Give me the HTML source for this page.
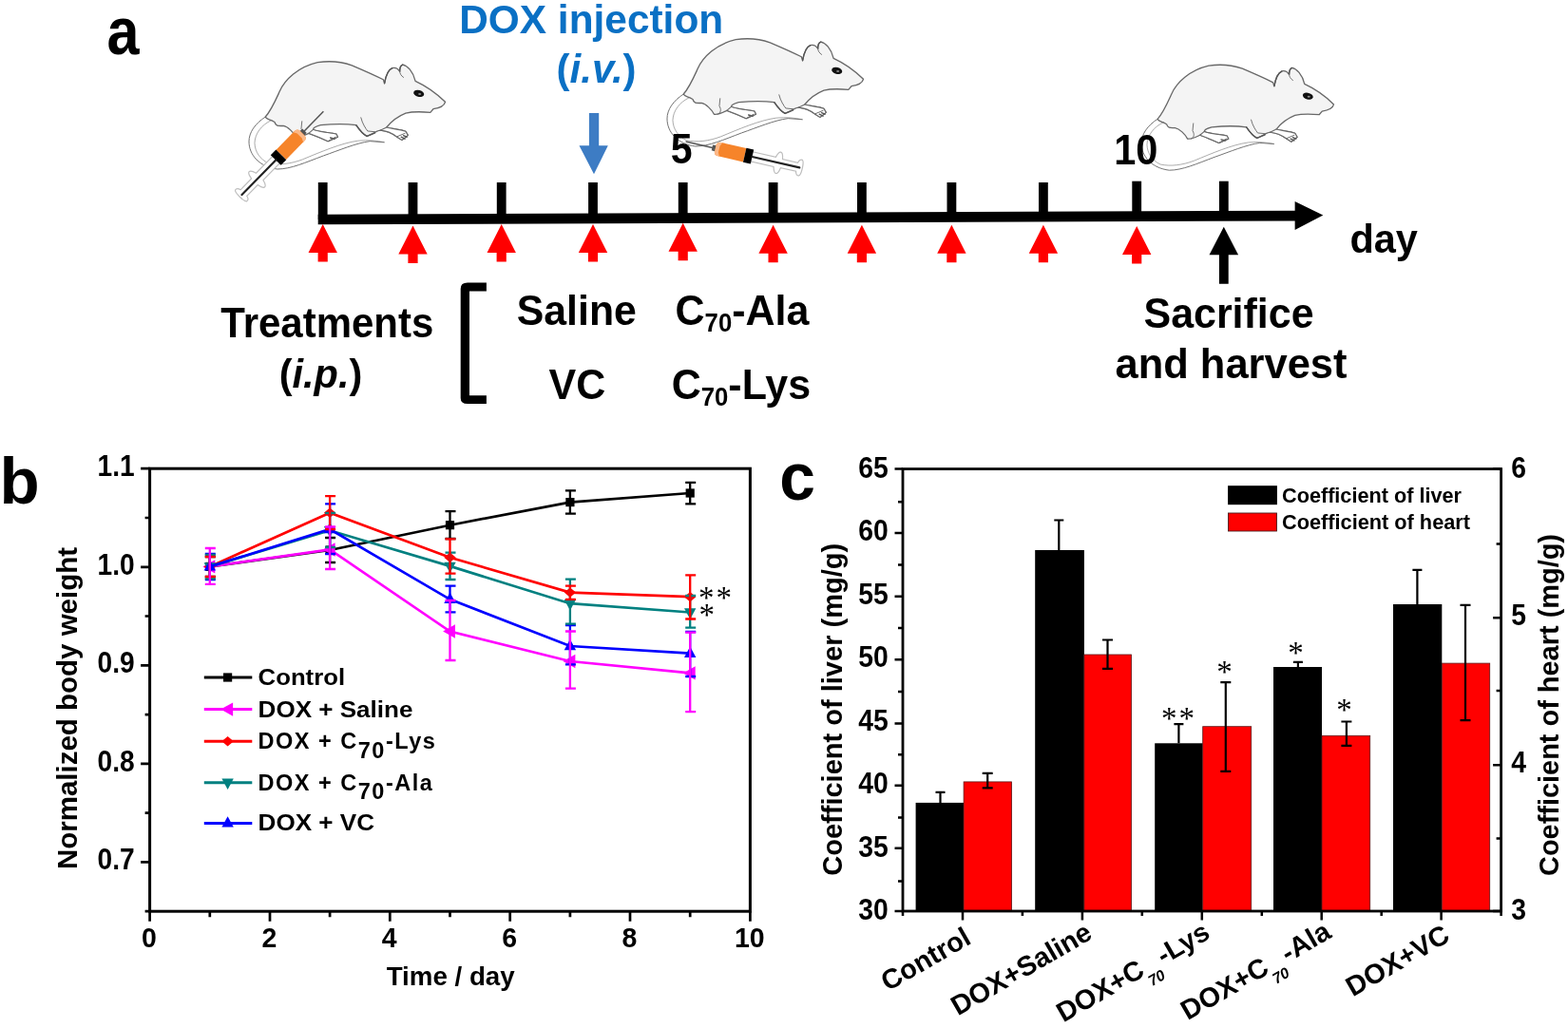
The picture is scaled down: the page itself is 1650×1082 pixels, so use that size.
<!DOCTYPE html>
<html lang="en"><head><meta charset="utf-8"><title>Figure: DOX treatment timeline, body weight and organ coefficients</title>
<style>
html,body{margin:0;padding:0;background:#fff;}
body{width:1650px;height:1082px;overflow:hidden;}
svg{display:block;}
text{font-family:"Liberation Sans", Arial, sans-serif;}
</style></head><body>
<svg width="1650" height="1082" viewBox="0 0 1650 1082">
<rect width="1650" height="1082" fill="#fff"/>
<defs>
<g id="mouse" transform="translate(240,50) scale(0.15706)" fill="none" stroke="#686868" stroke-width="8.5" stroke-linejoin="round" stroke-linecap="round">
<path fill="#f4f4f4" d="M250 465 C290 420 320 350 345 295 C380 215 470 130 600 100 C680 88 760 95 830 120 C900 150 980 185 1040 215 L1048 240 C1055 200 1070 150 1100 138 C1120 132 1140 145 1150 160 C1150 140 1155 120 1170 115 C1200 120 1240 160 1255 225 C1320 255 1400 310 1455 365 C1450 385 1420 405 1375 412 L1355 435 C1300 430 1230 430 1190 440 C1140 460 1090 500 1062 535 C1100 545 1150 548 1190 562 L1205 588 L1165 620 L1130 598 C1100 575 1060 558 1020 555 C990 560 960 585 930 595 C900 580 875 545 858 520 C800 512 700 512 620 520 C590 528 570 540 570 550 C600 565 680 570 725 580 L735 600 L670 628 C630 610 580 590 540 575 C510 590 480 605 455 600 C440 570 400 530 370 525 C340 525 320 530 312 500 L290 488 C270 480 255 480 250 465 Z"/>
<path fill="#fff" stroke-width="7" d="M1062 535 C1100 545 1150 548 1190 562 L1205 588 L1165 620 L1130 598 C1100 575 1060 558 1020 555 Z"/>
<path fill="#fff" stroke-width="7" d="M570 550 C600 565 680 570 725 580 L735 600 L670 628 C630 610 580 590 540 575 Z"/>
<path stroke-width="9" stroke="#555" d="M1160 600 L1185 612 M1175 590 L1198 600 M685 605 L715 612 M1048 240 C1055 200 1070 150 1100 138 M1150 160 C1150 140 1155 120 1170 115 M858 520 C875 545 900 580 930 595 L985 572"/>
<path stroke-width="6" d="M250 465 C180 510 140 570 140 630 C140 720 210 800 330 815 C420 815 520 770 640 725 C740 690 860 640 950 628 L1045 635"/>
<path stroke-width="4" stroke="#777" d="M290 488 C220 520 180 580 178 640 C180 700 215 750 270 775 C340 790 420 780 500 750 C620 700 760 640 870 625 C940 618 1000 625 1045 635"/>
<path stroke-width="6" d="M890 470 C900 510 920 540 935 560 L985 565 M1150 160 C1150 175 1160 190 1175 200 M480 600 C500 590 505 570 490 545 L495 495 M1130 598 L1185 575 M670 628 L720 600"/>
<ellipse cx="1278" cy="308" rx="36" ry="22" transform="rotate(15 1278 308)" fill="#111" stroke="none"/>
<ellipse cx="1284" cy="312" rx="10" ry="6" fill="#888" stroke="none"/>
</g>
<g id="syringe">
<path d="M0 0 L31 0" stroke="#555" stroke-width="1.5" fill="none"/>
<path d="M28.5 -3 L32.5 -3.4 L32.5 3.4 L28.5 3 Z" fill="#555"/>
<path d="M71 -5.2 L96 -5.2 C97 -9 98 -11.5 100 -11.5 C102 -11.5 103 -8 103.5 -4.6 L120 -4.6 C120.5 -7.5 122 -9 124 -8.5 C126.5 -7 126.5 7 124 8.5 C122 9 120.5 7.5 120 4.6 L103.5 4.6 C103 8 102 11.5 100 11.5 C98 11.5 97 9 96 5.2 L71 5.2 Z" fill="#fff" stroke="#bdbdbd" stroke-width="1.2"/>
<path d="M32 -4 Q32.5 -7.4 36.5 -7.4 L63.7 -7.4 L63.7 7.4 L36.5 7.4 Q32.5 7.4 32 4 Z" fill="#f6842a"/>
<path d="M32 -4 Q32.5 -7.4 36.5 -7.4 L38 -7.4 L36 -3.5 L36 3.5 L38 7.4 L36.5 7.4 Q32.5 7.4 32 4 Z" fill="#fbb888"/>
<rect x="63.7" y="-7.6" width="8" height="15.2" fill="#000"/>
<path d="M71.7 0 L122.8 0" stroke="#222" stroke-width="2.2" stroke-linecap="round"/>
</g>
</defs>
<g id="panel-a">
<text transform="translate(112.6,56.6) scale(0.88,1)" font-size="69.5" font-weight="bold">a</text>
<use href="#mouse"/>
<use href="#mouse" transform="translate(440,-24)"/>
<use href="#mouse" transform="translate(1403.5,109.9) scale(0.98) translate(-468.5,-107.3)"/>
<use href="#syringe" transform="translate(340.4,117.3) rotate(134.4)"/>
<use href="#syringe" transform="translate(721.6,149) rotate(12.9)"/>
<text transform="translate(622.2,35) scale(0.9434,1)" font-size="43.25" font-weight="bold" text-anchor="middle" fill="#0a70c4" textLength="294.7" lengthAdjust="spacingAndGlyphs">DOX injection</text>
<text transform="translate(627.6,86.9) scale(0.9804,1)" font-size="42.84" font-weight="bold" text-anchor="middle" fill="#0a70c4">(<tspan font-style="italic">i.v.</tspan>)</text>
<path d="M619.9 119 L630.2 119 L630.2 153.2 L639.8 153.2 L625 183.2 L609.5 153.2 L619.9 153.2 Z" fill="#3d7cc4"/>
<path d="M334.7 225.7 L1366 221.7 L1366 232.5 L334.7 236.3 Z" fill="#000"/>
<path d="M1362.6 212.1 L1392.3 226.6 L1362.6 241.9 Z" fill="#000"/>
<rect x="334.8" y="192" width="9.8" height="39.0" fill="#000"/>
<rect x="429.6" y="192" width="9.8" height="38.6" fill="#000"/>
<rect x="522.8" y="192" width="9.8" height="38.3" fill="#000"/>
<rect x="619.1" y="192" width="9.8" height="37.9" fill="#000"/>
<rect x="713.8" y="192" width="9.8" height="37.5" fill="#000"/>
<rect x="808.7" y="192" width="9.8" height="37.2" fill="#000"/>
<rect x="902.0" y="192" width="9.8" height="36.8" fill="#000"/>
<rect x="996.5" y="192" width="9.8" height="36.5" fill="#000"/>
<rect x="1093.0" y="192" width="9.8" height="36.1" fill="#000"/>
<rect x="1191.3" y="190.7" width="9.8" height="37.0" fill="#000"/>
<rect x="1282.9" y="190.7" width="9.8" height="36.7" fill="#000"/>
<path d="M339.7 236.0 L354.9 266.0 L344.8 266.0 L344.8 275.5 L334.6 275.5 L334.6 266.0 L324.5 266.0 Z" fill="#f00"/>
<path d="M434.5 237.6 L449.7 267.6 L439.6 267.6 L439.6 277.1 L429.4 277.1 L429.4 267.6 L419.3 267.6 Z" fill="#f00"/>
<path d="M527.7 236.0 L542.9 266.0 L532.8 266.0 L532.8 275.5 L522.6 275.5 L522.6 266.0 L512.5 266.0 Z" fill="#f00"/>
<path d="M624.0 236.0 L639.2 266.0 L629.1 266.0 L629.1 275.5 L618.9 275.5 L618.9 266.0 L608.8 266.0 Z" fill="#f00"/>
<path d="M718.7 234.8 L733.9 264.8 L723.8 264.8 L723.8 274.3 L713.6 274.3 L713.6 264.8 L703.5 264.8 Z" fill="#f00"/>
<path d="M813.6 236.8 L828.8 266.8 L818.7 266.8 L818.7 276.3 L808.5 276.3 L808.5 266.8 L798.4 266.8 Z" fill="#f00"/>
<path d="M906.9 236.8 L922.1 266.8 L912.0 266.8 L912.0 276.3 L901.8 276.3 L901.8 266.8 L891.7 266.8 Z" fill="#f00"/>
<path d="M1001.4 236.8 L1016.6 266.8 L1006.5 266.8 L1006.5 276.3 L996.3 276.3 L996.3 266.8 L986.2 266.8 Z" fill="#f00"/>
<path d="M1097.9 236.8 L1113.1 266.8 L1103.0 266.8 L1103.0 276.3 L1092.8 276.3 L1092.8 266.8 L1082.7 266.8 Z" fill="#f00"/>
<path d="M1196.2 238.0 L1211.4 268.0 L1201.3 268.0 L1201.3 277.5 L1191.1 277.5 L1191.1 268.0 L1181.0 268.0 Z" fill="#f00"/>
<path d="M1287.8 238.8 L1303.1 268.3 L1292.7 268.3 L1292.7 298.8 L1282.8999999999999 298.8 L1282.8999999999999 268.3 L1272.5 268.3 Z" fill="#000"/>
<text transform="translate(717.2,172.0) scale(0.9346,1)" font-size="43.87" font-weight="bold" text-anchor="middle" fill="#000">5</text>
<text transform="translate(1195.2,173.4) scale(0.9346,1)" font-size="44.41" font-weight="bold" text-anchor="middle" fill="#000">10</text>
<text transform="translate(1456.2,266) scale(0.9709,1)" font-size="42.75" font-weight="bold" text-anchor="middle" fill="#000">day</text>
<text transform="translate(344.3,355.4) scale(0.9524,1)" font-size="43.58" font-weight="bold" text-anchor="middle" fill="#000" textLength="235.2" lengthAdjust="spacingAndGlyphs">Treatments</text>
<text transform="translate(337.5,407.8) scale(0.9804,1)" font-size="42.33" font-weight="bold" text-anchor="middle" fill="#000">(<tspan font-style="italic">i.p.</tspan>)</text>
<path d="M511.9 297.6 L492 297.6 Q484.7 297.6 484.7 304 L484.7 419 Q484.7 425 492 425 L511.9 425 L511.9 416.2 L494 416.2 L494 306.4 L511.9 306.4 Z" fill="#000"/>
<text transform="translate(606.8,341.6) scale(0.9524,1)" font-size="45.15" font-weight="bold" text-anchor="middle" fill="#000" textLength="132.3" lengthAdjust="spacingAndGlyphs">Saline</text>
<text transform="translate(607.4,419.8) scale(0.9524,1)" font-size="45.15" font-weight="bold" text-anchor="middle" fill="#000">VC</text>
<text transform="translate(781,341.6) scale(0.9524,1)" font-size="45.15" font-weight="bold" text-anchor="middle" fill="#000">C<tspan font-size="27" dy="7">70</tspan><tspan dy="-7">-Ala</tspan></text>
<text transform="translate(779.9,419.8) scale(0.9524,1)" font-size="45.15" font-weight="bold" text-anchor="middle" fill="#000">C<tspan font-size="27" dy="7">70</tspan><tspan dy="-7">-Lys</tspan></text>
<text transform="translate(1293,345.2) scale(0.9709,1)" font-size="44.29" font-weight="bold" text-anchor="middle" fill="#000" textLength="184.4" lengthAdjust="spacingAndGlyphs">Sacrifice</text>
<text transform="translate(1295.5,397.7) scale(0.9709,1)" font-size="44.29" font-weight="bold" text-anchor="middle" fill="#000" textLength="251.3" lengthAdjust="spacingAndGlyphs">and harvest</text>
</g>
<g id="panel-b">
<text transform="translate(-0.6,529.7) scale(1.0,1)" font-size="69" font-weight="bold">b</text>
<rect x="157.6" y="493.2" width="631.8" height="466.0" fill="none" stroke="#000" stroke-width="3"/>
<path d="M157.6 959.2 h-5 M157.6 907.4 h-9.5 M157.6 855.6 h-5 M157.6 803.9 h-9.5 M157.6 752.1 h-5 M157.6 700.3 h-9.5 M157.6 648.5 h-5 M157.6 596.8 h-9.5 M157.6 545.0 h-5 M157.6 493.2 h-9.5 M157.6 959.2 v10.5 M220.8 959.2 v6 M284.0 959.2 v10.5 M347.1 959.2 v6 M410.3 959.2 v10.5 M473.5 959.2 v6 M536.7 959.2 v10.5 M599.9 959.2 v6 M663.0 959.2 v10.5 M726.2 959.2 v6 M789.4 959.2 v10.5" stroke="#000" stroke-width="2.7" fill="none"/>
<text transform="translate(141.6,915.1) scale(0.92,1)" font-size="30.6" font-weight="bold" text-anchor="end" fill="#000">0.7</text>
<text transform="translate(141.6,811.6) scale(0.92,1)" font-size="30.6" font-weight="bold" text-anchor="end" fill="#000">0.8</text>
<text transform="translate(141.6,708.0) scale(0.92,1)" font-size="30.6" font-weight="bold" text-anchor="end" fill="#000">0.9</text>
<text transform="translate(141.6,604.5) scale(0.92,1)" font-size="30.6" font-weight="bold" text-anchor="end" fill="#000">1.0</text>
<text transform="translate(141.6,500.9) scale(0.92,1)" font-size="30.6" font-weight="bold" text-anchor="end" fill="#000">1.1</text>
<text transform="translate(157.0,997.3) scale(0.94,1)" font-size="30.3" font-weight="bold" text-anchor="middle" fill="#000">0</text>
<text transform="translate(283.4,997.3) scale(0.94,1)" font-size="30.3" font-weight="bold" text-anchor="middle" fill="#000">2</text>
<text transform="translate(409.7,997.3) scale(0.94,1)" font-size="30.3" font-weight="bold" text-anchor="middle" fill="#000">4</text>
<text transform="translate(536.1,997.3) scale(0.94,1)" font-size="30.3" font-weight="bold" text-anchor="middle" fill="#000">6</text>
<text transform="translate(662.4,997.3) scale(0.94,1)" font-size="30.3" font-weight="bold" text-anchor="middle" fill="#000">8</text>
<text transform="translate(788.8,997.3) scale(0.94,1)" font-size="30.3" font-weight="bold" text-anchor="middle" fill="#000">10</text>
<text x="474.2" y="1036.7" font-size="27" font-weight="bold" text-anchor="middle" fill="#000" textLength="135" lengthAdjust="spacingAndGlyphs">Time / day</text>
<text transform="translate(80.8,745.5) rotate(-90)" font-size="29" font-weight="bold" text-anchor="middle" textLength="339" lengthAdjust="spacingAndGlyphs">Normalized body weight</text>
<polyline points="220.8,596.4 347.1,579.0 473.5,552.7 599.9,528.6 726.2,519.0" fill="none" stroke="#000" stroke-width="2.7"/>
<rect x="216.2" y="591.8" width="9.2" height="9.2" fill="#000"/>
<rect x="342.5" y="574.4" width="9.2" height="9.2" fill="#000"/>
<rect x="468.9" y="548.1" width="9.2" height="9.2" fill="#000"/>
<rect x="595.3" y="524.0" width="9.2" height="9.2" fill="#000"/>
<rect x="721.6" y="514.4" width="9.2" height="9.2" fill="#000"/>
<polyline points="220.8,596.4 347.1,578.5 473.5,664.5 599.9,696.0 726.2,708.4" fill="none" stroke="#ff00ff" stroke-width="2.7"/>
<path d="M213.4 596.4 L226.3 589.2 L226.3 603.6 Z" fill="#ff00ff"/>
<path d="M339.7 578.5 L352.6 571.3 L352.6 585.7 Z" fill="#ff00ff"/>
<path d="M466.1 664.5 L479.0 657.3 L479.0 671.7 Z" fill="#ff00ff"/>
<path d="M592.5 696.0 L605.4 688.8 L605.4 703.2 Z" fill="#ff00ff"/>
<path d="M718.8 708.4 L731.7 701.2 L731.7 715.6 Z" fill="#ff00ff"/>
<polyline points="220.8,596.4 347.1,539.7 473.5,586.8 599.9,623.6 726.2,628.2" fill="none" stroke="#ff0000" stroke-width="2.7"/>
<path d="M214.6 596.4 L220.8 591.2 L227.0 596.4 L220.8 601.6 Z" fill="#ff0000"/>
<path d="M340.9 539.7 L347.1 534.5 L353.3 539.7 L347.1 544.9 Z" fill="#ff0000"/>
<path d="M467.3 586.8 L473.5 581.6 L479.7 586.8 L473.5 592.0 Z" fill="#ff0000"/>
<path d="M593.7 623.6 L599.9 618.4 L606.1 623.6 L599.9 628.8 Z" fill="#ff0000"/>
<path d="M720.0 628.2 L726.2 623.0 L732.4 628.2 L726.2 633.4 Z" fill="#ff0000"/>
<polyline points="220.8,596.4 347.1,558.3 473.5,595.9 599.9,635.2 726.2,644.5" fill="none" stroke="#008080" stroke-width="2.7"/>
<path d="M214.6 592.2 L227.0 592.2 L220.8 603.6 Z" fill="#008080"/>
<path d="M340.9 554.1 L353.3 554.1 L347.1 565.5 Z" fill="#008080"/>
<path d="M467.3 591.7 L479.7 591.7 L473.5 603.1 Z" fill="#008080"/>
<path d="M593.7 631.0 L606.1 631.0 L599.9 642.4 Z" fill="#008080"/>
<path d="M720.0 640.3 L732.4 640.3 L726.2 651.7 Z" fill="#008080"/>
<polyline points="220.8,596.4 347.1,557.0 473.5,630.8 599.9,680.0 726.2,687.7" fill="none" stroke="#0000ff" stroke-width="2.7"/>
<path d="M214.6 600.6 L227.0 600.6 L220.8 589.2 Z" fill="#0000ff"/>
<path d="M340.9 561.2 L353.3 561.2 L347.1 549.8 Z" fill="#0000ff"/>
<path d="M467.3 635.0 L479.7 635.0 L473.5 623.6 Z" fill="#0000ff"/>
<path d="M593.7 684.2 L606.1 684.2 L599.9 672.8 Z" fill="#0000ff"/>
<path d="M720.0 691.9 L732.4 691.9 L726.2 680.5 Z" fill="#0000ff"/>
<path d="M220.8 586 V607 M215.8 586 h11 M215.8 607 h11 M347.1 566 V592 M342.1 566 h11 M342.1 592 h11 M473.5 538.2 V567 M468.5 538.2 h11 M468.5 567 h11 M599.9 516.4 V540.7 M594.9 516.4 h11 M594.9 540.7 h11 M726.2 507.9 V530.4 M721.2 507.9 h11 M721.2 530.4 h11" stroke="#000" stroke-width="2.3" fill="none"/>
<path d="M220.8 583 V610 M215.8 583 h11 M215.8 610 h11 M347.1 530.4 V583 M342.1 530.4 h11 M342.1 583 h11 M473.5 616.6 V644.3 M468.5 616.6 h11 M468.5 644.3 h11 M599.9 658 V699.4 M594.9 658 h11 M594.9 699.4 h11 M726.2 665 V712 M721.2 665 h11 M721.2 712 h11" stroke="#0000ff" stroke-width="2.3" fill="none"/>
<path d="M220.8 584 V609 M215.8 584 h11 M215.8 609 h11 M347.1 540 V576 M342.1 540 h11 M342.1 576 h11 M473.5 581.6 V610 M468.5 581.6 h11 M468.5 610 h11 M599.9 609.6 V656.7 M594.9 609.6 h11 M594.9 656.7 h11 M726.2 627 V660.6 M721.2 627 h11 M721.2 660.6 h11" stroke="#008080" stroke-width="2.3" fill="none"/>
<path d="M220.8 586 V607 M215.8 586 h11 M215.8 607 h11 M347.1 522.1 V557 M342.1 522.1 h11 M342.1 557 h11 M473.5 567.4 V603.6 M468.5 567.4 h11 M468.5 603.6 h11 M599.9 616.6 V630.8 M594.9 616.6 h11 M594.9 630.8 h11 M726.2 605.4 V651.5 M721.2 605.4 h11 M721.2 651.5 h11" stroke="#ff0000" stroke-width="2.3" fill="none"/>
<path d="M220.8 577 V614.8 M215.8 577 h11 M215.8 614.8 h11 M347.1 554.5 V599 M342.1 554.5 h11 M342.1 599 h11 M473.5 632 V695 M468.5 632 h11 M468.5 695 h11 M599.9 664.5 V724.6 M594.9 664.5 h11 M594.9 724.6 h11 M726.2 665.7 V749.2 M721.2 665.7 h11 M721.2 749.2 h11" stroke="#ff00ff" stroke-width="2.3" fill="none"/>
<text x="735" y="639.5" font-size="33" font-weight="normal" style="font-family:'Liberation Serif', 'DejaVu Serif', serif" letter-spacing="2">**</text>
<text x="735.5" y="657.5" font-size="33" font-weight="normal" style="font-family:'Liberation Serif', 'DejaVu Serif', serif">*</text>
<path d="M214.8 713.0 H265.3" stroke="#000" stroke-width="3" fill="none"/>
<rect x="235.0" y="708.4" width="9.2" height="9.2" fill="#000"/>
<text x="271.6" y="720.9" font-size="23.5" font-weight="bold" text-anchor="start" fill="#000" textLength="91.5" lengthAdjust="spacingAndGlyphs">Control</text>
<path d="M214.8 746.6 H265.3" stroke="#ff00ff" stroke-width="3" fill="none"/>
<path d="M232.2 746.6 L245.1 739.4 L245.1 753.8 Z" fill="#ff00ff"/>
<text x="271.6" y="754.5" font-size="23.5" font-weight="bold" text-anchor="start" fill="#000" textLength="162.8" lengthAdjust="spacingAndGlyphs">DOX + Saline</text>
<path d="M214.8 780.2 H265.3" stroke="#ff0000" stroke-width="3" fill="none"/>
<path d="M233.4 780.2 L239.6 775.0 L245.8 780.2 L239.6 785.4 Z" fill="#ff0000"/>
<text x="271.6" y="788" font-size="23.5" font-weight="bold" letter-spacing="1.5">DOX + C<tspan dy="9.5">70</tspan><tspan dy="-9.5">-Lys</tspan></text>
<path d="M214.8 823.7 H265.3" stroke="#008080" stroke-width="3" fill="none"/>
<path d="M233.4 819.5 L245.8 819.5 L239.6 830.9 Z" fill="#008080"/>
<text x="271.6" y="831.5" font-size="23.5" font-weight="bold" letter-spacing="1.5">DOX + C<tspan dy="9.5">70</tspan><tspan dy="-9.5">-Ala</tspan></text>
<path d="M214.8 866.4 H265.3" stroke="#0000ff" stroke-width="3" fill="none"/>
<path d="M233.4 870.6 L245.8 870.6 L239.6 859.2 Z" fill="#0000ff"/>
<text x="271.6" y="874.3" font-size="23.5" font-weight="bold" text-anchor="start" fill="#000" textLength="122.4" lengthAdjust="spacingAndGlyphs">DOX + VC</text>
</g>
<g id="panel-c">
<text transform="translate(820.3,526.2) scale(0.975,1)" font-size="69.5" font-weight="bold">c</text>
<rect x="963.6" y="844.9" width="50.5" height="114.1" fill="#000"/>
<rect x="1014.1" y="822.9" width="50.5" height="136.1" fill="#f00" stroke="#5a1a1a" stroke-width="0.8"/>
<path d="M989.5 844.9 V833.8 M984.5 833.8 h10 M1039.2 813.9 V829.4 M1033.7 813.9 h11 M1033.7 829.4 h11" stroke="#000" stroke-width="2.2" fill="none"/>
<rect x="1089.2" y="579.0" width="51.7" height="380.0" fill="#000"/>
<rect x="1140.9" y="689.0" width="49.7" height="270.0" fill="#f00" stroke="#5a1a1a" stroke-width="0.8"/>
<path d="M1114.3 579.0 V547.5 M1109.3 547.5 h10 M1165.5 673.5 V703.8 M1160.0 673.5 h11 M1160.0 703.8 h11" stroke="#000" stroke-width="2.2" fill="none"/>
<rect x="1215.2" y="782.3" width="50.5" height="176.7" fill="#000"/>
<rect x="1265.7" y="764.7" width="51.0" height="194.3" fill="#f00" stroke="#5a1a1a" stroke-width="0.8"/>
<path d="M1240.4 782.3 V762.1 M1235.4 762.1 h10 M1289.8 718.1 V811.8 M1284.3 718.1 h11 M1284.3 811.8 h11" stroke="#000" stroke-width="2.2" fill="none"/>
<rect x="1340.0" y="702.0" width="51.0" height="257.0" fill="#000"/>
<rect x="1391.0" y="774.3" width="50.7" height="184.7" fill="#f00" stroke="#5a1a1a" stroke-width="0.8"/>
<path d="M1365.9 702.0 V696.8 M1360.9 696.8 h10 M1416.9 759.5 V784.9 M1411.4 759.5 h11 M1411.4 784.9 h11" stroke="#000" stroke-width="2.2" fill="none"/>
<rect x="1466.0" y="636.0" width="51.3" height="323.0" fill="#000"/>
<rect x="1517.3" y="698.1" width="50.4" height="260.9" fill="#f00" stroke="#5a1a1a" stroke-width="0.8"/>
<path d="M1491.4 636.0 V599.8 M1486.4 599.8 h10 M1542.0 636.8 V758.2 M1536.5 636.8 h11 M1536.5 758.2 h11" stroke="#000" stroke-width="2.2" fill="none"/>
<rect x="950.0" y="493.6" width="629.6" height="465.4" fill="none" stroke="#000" stroke-width="2.8"/>
<path d="M950.0 959.0 h-8.5 M950.0 927.6 h-5 M950.0 892.8 h-8.5 M950.0 860.6 h-5 M950.0 826.8 h-8.5 M950.0 794.2 h-5 M950.0 761.4 h-8.5 M950.0 728.0 h-5 M950.0 694.2 h-8.5 M950.0 661.0 h-5 M950.0 627.7 h-8.5 M950.0 594.5 h-5 M950.0 561.0 h-8.5 M950.0 528.3 h-5 M950.0 493.6 h-8.5 M1579.6 959.0 h-8.5 M1579.6 882.5 h-5 M1579.6 805.3 h-8.5 M1579.6 726.9 h-5 M1579.6 650.2 h-8.5 M1579.6 572.6 h-5 M1579.6 493.6 h-8.5 M950.0 959.0 v5 M1013.0 959.0 v9.5 M1075.9 959.0 v5 M1138.9 959.0 v9.5 M1201.8 959.0 v5 M1264.8 959.0 v9.5 M1327.8 959.0 v5 M1390.7 959.0 v9.5 M1453.7 959.0 v5 M1516.6 959.0 v9.5 M1579.6 959.0 v5" stroke="#000" stroke-width="2.5" fill="none"/>
<text transform="translate(934.8,968.2) scale(0.92,1)" font-size="30.8" font-weight="bold" text-anchor="end" fill="#000">30</text>
<text transform="translate(934.8,901.7) scale(0.92,1)" font-size="30.8" font-weight="bold" text-anchor="end" fill="#000">35</text>
<text transform="translate(934.8,835.2) scale(0.92,1)" font-size="30.8" font-weight="bold" text-anchor="end" fill="#000">40</text>
<text transform="translate(934.8,768.7) scale(0.92,1)" font-size="30.8" font-weight="bold" text-anchor="end" fill="#000">45</text>
<text transform="translate(934.8,702.3) scale(0.92,1)" font-size="30.8" font-weight="bold" text-anchor="end" fill="#000">50</text>
<text transform="translate(934.8,635.8) scale(0.92,1)" font-size="30.8" font-weight="bold" text-anchor="end" fill="#000">55</text>
<text transform="translate(934.8,569.3) scale(0.92,1)" font-size="30.8" font-weight="bold" text-anchor="end" fill="#000">60</text>
<text transform="translate(934.8,502.8) scale(0.92,1)" font-size="30.8" font-weight="bold" text-anchor="end" fill="#000">65</text>
<text transform="translate(1590.2,968.2) scale(0.92,1)" font-size="30.8" font-weight="bold" text-anchor="start" fill="#000">3</text>
<text transform="translate(1590.2,813.1) scale(0.92,1)" font-size="30.8" font-weight="bold" text-anchor="start" fill="#000">4</text>
<text transform="translate(1590.2,657.9) scale(0.92,1)" font-size="30.8" font-weight="bold" text-anchor="start" fill="#000">5</text>
<text transform="translate(1590.2,502.8) scale(0.92,1)" font-size="30.8" font-weight="bold" text-anchor="start" fill="#000">6</text>
<text transform="translate(886,746.8) rotate(-90)" font-size="29" font-weight="bold" text-anchor="middle" textLength="350" lengthAdjust="spacingAndGlyphs">Coefficient of liver (mg/g)</text>
<text transform="translate(1639.5,742) rotate(-90)" font-size="29" font-weight="bold" text-anchor="middle" textLength="360" lengthAdjust="spacingAndGlyphs">Coefficient of heart (mg/g)</text>
<rect x="1292.1" y="511.2" width="51.8" height="20" fill="#000"/>
<rect x="1292.5" y="540" width="51" height="19" fill="#f00" stroke="#4a2020" stroke-width="0.9"/>
<text x="1349" y="528.6" font-size="21.7" font-weight="bold" text-anchor="start" fill="#000" textLength="189" lengthAdjust="spacingAndGlyphs">Coefficient of liver</text>
<text x="1349" y="557.2" font-size="21.7" font-weight="bold" text-anchor="start" fill="#000" textLength="198" lengthAdjust="spacingAndGlyphs">Coefficient of heart</text>
<text x="1240.5" y="767.2" font-size="33" font-weight="normal" text-anchor="middle" letter-spacing="2" style="font-family:'Liberation Serif', 'DejaVu Serif', serif">**</text>
<text x="1289.6" y="717.6" font-size="33" font-weight="normal" text-anchor="middle" letter-spacing="2" style="font-family:'Liberation Serif', 'DejaVu Serif', serif">*</text>
<text x="1364.6" y="698" font-size="33" font-weight="normal" text-anchor="middle" letter-spacing="2" style="font-family:'Liberation Serif', 'DejaVu Serif', serif">*</text>
<text x="1415.4" y="757.6" font-size="33" font-weight="normal" text-anchor="middle" letter-spacing="2" style="font-family:'Liberation Serif', 'DejaVu Serif', serif">*</text>
<text transform="translate(1023.5,992.2) rotate(-30)" font-size="29" font-weight="bold" text-anchor="end">Control</text>
<text transform="translate(1151,987) rotate(-30)" font-size="29" font-weight="bold" text-anchor="end">DOX+Saline</text>
<text transform="translate(1275,986.5) rotate(-30)" font-size="29" font-weight="bold" text-anchor="end">DOX+C<tspan font-size="16" font-weight="bold" font-style="italic" dy="13.5" dx="-1">70</tspan><tspan dy="-13.5" dx="4">-Lys</tspan></text>
<text transform="translate(1402.5,986) rotate(-30)" font-size="29" font-weight="bold" text-anchor="end">DOX+C<tspan font-size="16" font-weight="bold" font-style="italic" dy="13.5" dx="-1">70</tspan><tspan dy="-13.5" dx="4">-Ala</tspan></text>
<text transform="translate(1527.5,989.5) rotate(-30)" font-size="29" font-weight="bold" text-anchor="end">DOX+VC</text>
</g>
</svg>
</body></html>
